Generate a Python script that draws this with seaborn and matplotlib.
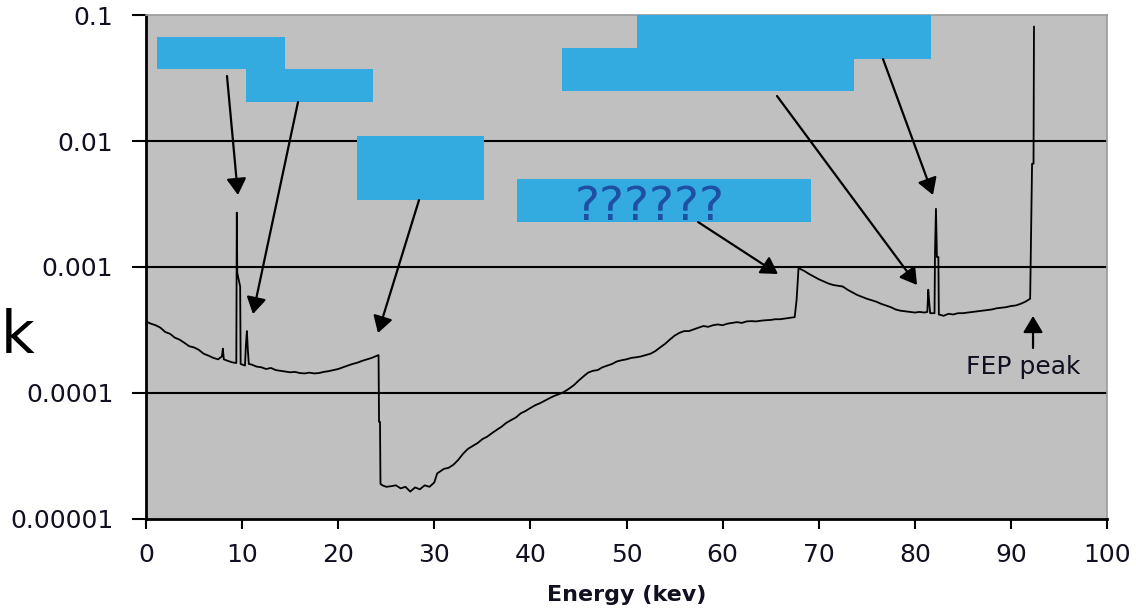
import matplotlib
matplotlib.use("Agg")
import matplotlib.pyplot as plt
import matplotlib.patches as mpatches
import seaborn as sns
import pandas as pd

# Simulated detector spectrum: energy (keV) vs relative counts
energy_kev = [
    0.0, 0.5, 1.0, 1.5, 2.0, 2.5, 3.0, 3.5, 4.0, 4.5, 5.0, 5.5, 6.0, 6.5, 7.0, 7.5,
    7.9, 8.0, 8.1, 8.5, 9.0, 9.4, 9.45, 9.5, 9.8, 9.85, 10.3, 10.4, 10.5, 10.6, 10.7,
    11.0, 11.5, 12.0, 12.5, 13.0, 13.5, 14.0, 14.5, 15.0, 15.5, 16.0, 16.5, 17.0, 17.5,
    18.0, 18.5, 19.0, 19.5, 20.0, 20.5, 21.0, 21.5, 22.0, 22.5, 23.0, 23.5, 24.0, 24.2,
    24.25, 24.35, 24.4, 24.6, 25.0, 25.5, 26.0, 26.5, 27.0, 27.5, 28.0, 28.5, 29.0, 29.5,
    30.0, 30.3, 31.0, 31.5, 32.0, 32.5, 33.0, 33.5, 34.0, 34.5, 35.0, 35.5, 36.0, 36.5,
    37.0, 37.5, 38.0, 38.5, 39.0, 39.5, 40.0, 40.5, 41.0, 41.5, 42.0, 42.5, 43.0, 43.5,
    44.0, 44.5, 45.0, 45.5, 46.0, 46.5, 47.0, 47.5, 48.0, 48.5, 49.0, 49.5, 50.0, 50.5,
    51.0, 51.5, 52.0, 52.5, 53.0, 53.5, 54.0, 54.5, 55.0, 55.5, 56.0, 56.5, 57.0, 57.5,
    58.0, 58.5, 59.0, 59.5, 60.0, 60.5, 61.0, 61.5, 62.0, 62.5, 63.0, 63.5, 64.0, 64.5,
    65.0, 65.5, 66.0, 66.5, 67.0, 67.5, 67.7, 67.9, 68.5, 69.0, 69.5, 70.0, 70.5, 71.0,
    71.5, 72.0, 72.5, 73.0, 73.5, 74.0, 74.5, 75.0, 75.5, 76.0, 76.5, 77.0, 77.5, 78.0,
    78.5, 79.0, 79.5, 80.0, 80.5, 81.0, 81.3, 81.4, 81.5, 81.6, 82.0, 82.05, 82.1, 82.2,
    82.3, 82.45, 82.5, 83.0, 83.5, 84.0, 84.5, 85.0, 85.5, 86.0, 86.5, 87.0, 87.5, 88.0,
    88.5, 89.0, 89.5, 90.0, 90.5, 91.0, 91.5, 92.0, 92.2, 92.35, 92.4,
]
rel_counts = [
    3.7e-4, 3.55e-4, 3.45e-4, 3.3e-4, 3.05e-4, 2.95e-4, 2.75e-4, 2.65e-4, 2.5e-4, 2.35e-4,
    2.3e-4, 2.2e-4, 2.05e-4, 1.98e-4, 1.9e-4, 1.85e-4,
    1.95e-4, 2.25e-4, 1.85e-4, 1.8e-4, 1.75e-4, 1.73e-4, 2.7e-3, 9.0e-4, 7.0e-4, 1.7e-4,
    1.65e-4, 2.4e-4, 3.1e-4, 2.2e-4, 1.7e-4,
    1.68e-4, 1.62e-4, 1.6e-4, 1.55e-4, 1.58e-4, 1.52e-4, 1.5e-4, 1.48e-4, 1.46e-4, 1.47e-4,
    1.44e-4, 1.43e-4, 1.45e-4, 1.43e-4,
    1.44e-4, 1.47e-4, 1.49e-4, 1.52e-4, 1.55e-4, 1.6e-4, 1.65e-4, 1.7e-4, 1.74e-4, 1.8e-4,
    1.85e-4, 1.9e-4, 1.97e-4, 2.0e-4,
    5.9e-5, 5.9e-5, 1.9e-5, 1.85e-5, 1.8e-5, 1.82e-5, 1.85e-5, 1.75e-5, 1.8e-5, 1.65e-5,
    1.78e-5, 1.72e-5, 1.85e-5, 1.8e-5,
    1.95e-5, 2.3e-5, 2.5e-5, 2.55e-5, 2.7e-5, 2.95e-5, 3.3e-5, 3.6e-5, 3.8e-5, 4.0e-5,
    4.3e-5, 4.5e-5, 4.8e-5, 5.1e-5,
    5.4e-5, 5.8e-5, 6.1e-5, 6.4e-5, 6.9e-5, 7.2e-5, 7.6e-5, 8.0e-5, 8.3e-5, 8.7e-5,
    9.1e-5, 9.5e-5, 9.8e-5, 1.02e-4,
    1.08e-4, 1.15e-4, 1.25e-4, 1.35e-4, 1.45e-4, 1.5e-4, 1.52e-4, 1.6e-4, 1.65e-4, 1.7e-4,
    1.78e-4, 1.82e-4, 1.85e-4, 1.9e-4,
    1.92e-4, 1.95e-4, 2.0e-4, 2.05e-4, 2.15e-4, 2.3e-4, 2.45e-4, 2.65e-4, 2.85e-4, 3.0e-4,
    3.1e-4, 3.1e-4, 3.2e-4, 3.3e-4,
    3.4e-4, 3.35e-4, 3.45e-4, 3.5e-4, 3.45e-4, 3.55e-4, 3.6e-4, 3.65e-4, 3.6e-4, 3.7e-4,
    3.72e-4, 3.7e-4, 3.75e-4, 3.78e-4,
    3.8e-4, 3.85e-4, 3.85e-4, 3.9e-4, 3.95e-4, 4.0e-4, 5.5e-4, 9.8e-4, 9.3e-4, 8.8e-4,
    8.4e-4, 8.0e-4, 7.7e-4, 7.4e-4,
    7.2e-4, 7.1e-4, 7.0e-4, 6.6e-4, 6.3e-4, 6.0e-4, 5.8e-4, 5.6e-4, 5.45e-4, 5.3e-4,
    5.1e-4, 4.95e-4, 4.8e-4, 4.6e-4,
    4.5e-4, 4.45e-4, 4.4e-4, 4.35e-4, 4.4e-4, 4.35e-4, 4.4e-4, 6.6e-4, 5.2e-4, 4.3e-4,
    4.3e-4, 4.3e-4, 1.3e-3, 2.9e-3,
    1.2e-3, 1.2e-3, 4.2e-4, 4.1e-4, 4.25e-4, 4.2e-4, 4.3e-4, 4.3e-4, 4.35e-4, 4.4e-4,
    4.45e-4, 4.5e-4, 4.55e-4, 4.6e-4,
    4.7e-4, 4.75e-4, 4.8e-4, 4.9e-4, 4.95e-4, 5.1e-4, 5.3e-4, 5.6e-4, 6.6e-3, 6.6e-3, 8.1e-2,
]

x_ticks = [0, 10, 20, 30, 40, 50, 60, 70, 80, 90, 100]
x_tick_labels = ["0", "10", "20", "30", "40", "50", "60", "70", "80", "90", "100"]
y_ticks = [1e-5, 1e-4, 1e-3, 1e-2, 1e-1]
y_tick_labels = ["0.00001", "0.0001", "0.001", "0.01", "0.1"]

df = pd.DataFrame({"energy": energy_kev, "counts": rel_counts})

sns.set_style("white", {"axes.facecolor": "#c0c0c0"})
plt.rcParams["font.family"] = ["DejaVu Sans"]

fig = plt.figure(figsize=(11.36, 6.10), dpi=100)
ax = fig.add_axes([0.1285, 0.1492, 0.8460, 0.8262])

sns.lineplot(data=df, x="energy", y="counts", estimator=None, sort=False,
             color="black", linewidth=1.3, ax=ax, zorder=3)

ax.set_yscale("log")
ax.set_xlim(0, 100)
ax.set_ylim(1e-5, 1e-1)
ax.set_xticks(x_ticks)
ax.set_xticklabels(x_tick_labels)
ax.set_yticks(y_ticks)
ax.set_yticklabels(y_tick_labels)
ax.minorticks_off()
ax.tick_params(axis="x", direction="out", length=7, width=1.5, color="black",
               pad=10, labelsize=18, labelcolor="#101020", bottom=True)
ax.tick_params(axis="y", direction="out", length=10, width=1.5, color="black",
               pad=13.5, labelsize=18, labelcolor="#101020", left=True)

# horizontal decade grid lines (inner ones only)
ax.yaxis.grid(True, color="black", linewidth=1.5)
ax.xaxis.grid(False)
glines = ax.get_ygridlines()
glines[0].set_visible(False)
glines[-1].set_visible(False)
ax.set_axisbelow(True)

for side in ("left", "bottom"):
    ax.spines[side].set_color("black")
    ax.spines[side].set_linewidth(2)
for side in ("top", "right"):
    ax.spines[side].set_color("#9a9a9a")
    ax.spines[side].set_linewidth(1.2)

ax.set_xlabel("Energy (kev)", fontsize=16, fontweight="bold", color="#101020", labelpad=13)
ax.set_ylabel("")

# label cover boxes
box_color = "#33abe1"
boxes = [
    (0.0114, 0.8929, 0.1332, 0.0634),
    (0.1041, 0.8274, 0.1321, 0.0655),
    (0.2196, 0.6329, 0.1321, 0.1270),
    (0.3861, 0.5893, 0.3059, 0.0853),
    (0.5109, 0.9127, 0.3060, 0.0873),
    (0.4329, 0.8492, 0.3038, 0.0853),
]
for (bx, by, bw, bh) in boxes:
    ax.add_patch(mpatches.Rectangle((bx, by), bw, bh, transform=ax.transAxes,
                                    facecolor=box_color, edgecolor="none", zorder=4))

ax.text(0.5245, 0.593, "??????", transform=ax.transAxes, ha="center", va="baseline",
        fontsize=34, color="#1f4fa3", zorder=6)

# arrows: (tail, head) in axes fraction
arrows = [
    ((0.0843, 0.8790), (0.0957, 0.6429)),
    ((0.1582, 0.8274), (0.1113, 0.4067)),
    ((0.2841, 0.6329), (0.2414, 0.3690)),
    ((0.5744, 0.5893), (0.6576, 0.4861)),
    ((0.6566, 0.8393), (0.8023, 0.4643)),
    ((0.7669, 0.9127), (0.8189, 0.6429)),
    ((0.9230, 0.3393), (0.9230, 0.4028)),
]
for tail, head in arrows:
    ax.annotate("", xy=head, xycoords="axes fraction", xytext=tail,
                textcoords="axes fraction",
                arrowprops=dict(arrowstyle="-|>,head_length=0.5,head_width=0.3",
                                color="black", lw=1.6, shrinkA=0, shrinkB=0,
                                mutation_scale=20),
                zorder=5)

ax.text(0.9131, 0.2877, "FEP peak", transform=ax.transAxes, ha="center",
        va="baseline", fontsize=18, color="#101020", zorder=6)

fig.text(0.001, 0.4213, "k", ha="left", va="baseline", fontsize=42, color="black")

fig.savefig("out.png", dpi=100, facecolor="white")
